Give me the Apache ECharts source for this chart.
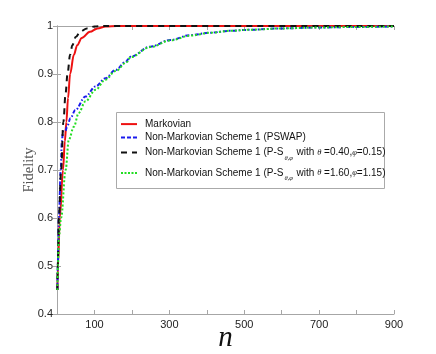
<!DOCTYPE html>
<html><head><meta charset="utf-8">
<script src="https://cdn.jsdelivr.net/npm/echarts@6/dist/echarts.min.js"></script>
<style>html,body{margin:0;padding:0;background:#fff}#c{width:436px;height:354px}</style>
</head><body><div id="c"></div>
<script>
var seriesNames = [
  'Markovian',
  'Non-Markovian Scheme 1 (PSWAP)',
  'Non-Markovian Scheme 1 (P-S θ,φ 0.40 0.15)',
  'Non-Markovian Scheme 1 (P-S θ,φ 1.60 1.15)'
];
var xTicks = [100, 300, 500, 700, 900];
var yTicks = [0.4, 0.5, 0.6, 0.7, 0.8, 0.9, 1];

var nMark = [1, 2.5, 7.5, 16, 21, 25, 29.5, 35, 45, 54, 66, 88, 108, 130, 160, 900];
var fMark = [0.45, 0.50, 0.60, 0.70, 0.76, 0.80, 0.85, 0.90, 0.94, 0.96, 0.975, 0.988, 0.995, 0.999, 1.0, 1.0];

var nPswap = [1, 2, 5, 10, 13, 16, 22, 27, 36, 49, 76, 103, 129, 156, 183, 196, 249, 303, 356, 409, 463, 511, 600, 700, 800, 900];
var fPswap = [0.45, 0.50, 0.60, 0.70, 0.76, 0.78, 0.781, 0.79, 0.808, 0.825, 0.853, 0.874, 0.891, 0.908, 0.925, 0.936, 0.957, 0.971, 0.981, 0.986, 0.990, 0.992, 0.995, 0.997, 0.998, 0.999];

var nPS1 = [1, 2, 5, 11, 17, 23, 28, 35, 41, 50, 62, 80, 100, 120, 900];
var fPS1 = [0.45, 0.50, 0.60, 0.70, 0.80, 0.86, 0.90, 0.94, 0.96, 0.977, 0.988, 0.995, 0.999, 1.0, 1.0];

var nPS2 = [1, 2.5, 5, 11, 23, 31.5, 45, 58, 76, 103, 129, 156, 187, 196, 249, 303, 356, 409, 463, 511, 600, 700, 800, 900];
var fPS2 = [0.45, 0.50, 0.56, 0.60, 0.70, 0.763, 0.79, 0.819, 0.843, 0.867, 0.888, 0.906, 0.925, 0.935, 0.956, 0.970, 0.980, 0.986, 0.990, 0.992, 0.995, 0.997, 0.998, 0.999];

function pairs(xs, ys) { return xs.map(function (x, i) { return [x, ys[i]]; }); }

var chart = echarts.init(document.getElementById('c'), null, {renderer: 'canvas'});
var labelFont = 'Liberation Sans';
var axisColor = '#a6a6a6';
var colors = ['#ee1111', '#1a1aee', '#111111', '#22dd22'];
var dashes = ['solid', [4, 2, 1.5, 2], [6, 5], [2, 2]];
var legendDashes = ['solid', [4, 2], [6, 5], [2, 1.5]];

var legendTexts = [
  '{p|Markovian}',
  '{p|Non-Markovian Scheme 1 (PSWAP)}',
  '{q|Non-Markovian Scheme 1 (P-S}{sub|θ,φ}{a| with }{it|θ}{a| =0.40,}{it|φ}{a|=0.15)}',
  '{q|Non-Markovian Scheme 1 (P-S}{sub|θ,φ}{a| with }{it|θ}{a| =1.60,}{it|φ}{a|=1.15)}'
];
var legendTops = [118.5, 132, 146.8, 167.3];

function mkSeries(i, xs, ys, w) {
  return {
    name: seriesNames[i], type: 'line', data: pairs(xs, ys), symbol: 'none',
    smooth: 0.35, smoothMonotone: 'x', clip: true,
    lineStyle: {color: colors[i], width: w, type: dashes[i]}, itemStyle: {color: colors[i]}
  };
}
var fs = 10;
function tx(lh, padL) {
  var o = {fontFamily: labelFont, fontSize: fs, color: '#111', lineHeight: lh};
  if (padL) o.padding = [0, 0, 0, padL];
  return o;
}
var richStyles = {
  p: tx(14, 3),
  q: tx(18, 3),
  a: tx(18),
  sub: {fontFamily: 'Liberation Serif', fontStyle: 'italic', fontSize: 6.5, color: '#111', verticalAlign: 'bottom', lineHeight: 7, padding: [0, 1, 0, 1]},
  it: {fontFamily: 'Liberation Serif', fontStyle: 'italic', fontSize: 8.5, color: '#111', lineHeight: 12}
};
var legends = seriesNames.map(function (nm, i) {
  return {
    left: 120, top: legendTops[i], orient: 'vertical',
    itemWidth: 16, itemHeight: 14, padding: 0, z: 6,
    data: [{name: nm, itemStyle: {opacity: 0, color: 'rgba(0,0,0,0)', borderWidth: 0},
            lineStyle: {color: colors[i], width: 2, type: legendDashes[i], opacity: 1}}],
    formatter: function (name) { return legendTexts[seriesNames.indexOf(name)]; },
    textStyle: {color: '#111', fontFamily: labelFont, fontSize: fs, rich: richStyles}
  };
});

chart.setOption({
  animation: false,
  backgroundColor: '#fff',
  grid: {left: 57, right: 42, top: 26, bottom: 40, containLabel: false, outerBoundsMode: 'none'},
  graphic: [{
    type: 'rect', z: 5, silent: true,
    shape: {x: 116.5, y: 112.5, width: 268, height: 76},
    style: {fill: '#fff', stroke: '#aaa', lineWidth: 1}
  }],
  legend: legends,
  xAxis: [{
    type: 'value', min: 0, max: 900, interval: 100, position: 'bottom',
    name: 'n', nameLocation: 'middle', nameGap: 10, nameMoveOverlap: false,
    nameTextStyle: {fontFamily: 'Liberation Serif', fontStyle: 'italic', fontSize: 29, color: '#111'},
    axisLine: {show: true, lineStyle: {color: axisColor, width: 1}},
    axisTick: {show: true, inside: true, length: 4, lineStyle: {color: axisColor}},
    splitLine: {show: false},
    axisLabel: {
      margin: 5, color: '#222', fontFamily: labelFont, fontSize: 11,
      formatter: function (v) { return xTicks.indexOf(v) >= 0 ? String(v) : ''; }
    }
  }, {
    type: 'value', min: 0, max: 900, interval: 100, position: 'top',
    axisLine: {show: true, lineStyle: {color: axisColor, width: 1}},
    axisTick: {show: true, inside: true, length: 4, lineStyle: {color: axisColor}},
    splitLine: {show: false}, axisLabel: {show: false}
  }],
  yAxis: [{
    type: 'value', min: 0.4, max: 1, interval: 0.1, position: 'left',
    name: 'Fidelity', nameLocation: 'middle', nameGap: 20, nameMoveOverlap: false,
    nameTextStyle: {fontFamily: 'Liberation Serif', fontSize: 14.5, color: '#555'},
    axisLine: {show: true, lineStyle: {color: axisColor, width: 1}},
    axisTick: {show: true, inside: true, length: 4, lineStyle: {color: axisColor}},
    splitLine: {show: false},
    axisLabel: {
      margin: 4, color: '#222', fontFamily: labelFont, fontSize: 11,
      formatter: function (v) {
        var r = Math.round(v * 10) / 10;
        for (var k = 0; k < yTicks.length; k++) { if (Math.abs(yTicks[k] - r) < 1e-6) return String(yTicks[k]); }
        return '';
      }
    }
  }, {
    type: 'value', min: 0.4, max: 1, interval: 0.1, position: 'right',
    axisLine: {show: true, lineStyle: {color: axisColor, width: 1}},
    axisTick: {show: true, inside: true, length: 4, lineStyle: {color: axisColor}},
    splitLine: {show: false}, axisLabel: {show: false}
  }],
  series: [
    mkSeries(0, nMark, fMark, 2),
    mkSeries(1, nPswap, fPswap, 2),
    mkSeries(2, nPS1, fPS1, 2),
    mkSeries(3, nPS2, fPS2, 2)
  ]
});
</script>
</body></html>
